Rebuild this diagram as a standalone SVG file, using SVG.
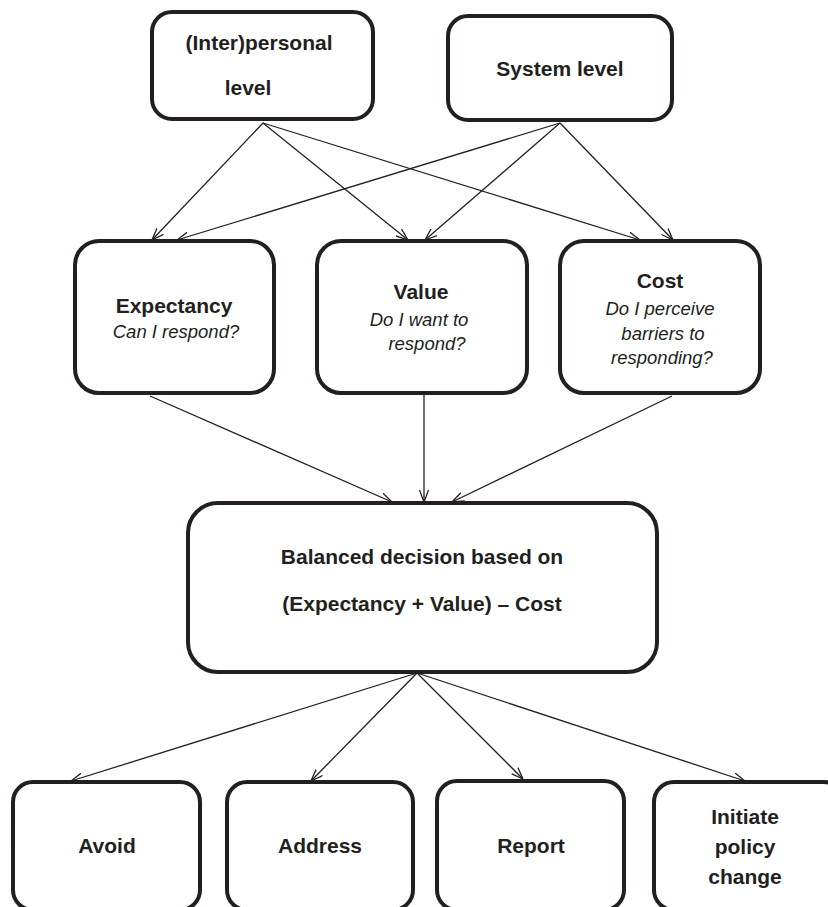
<svg xmlns="http://www.w3.org/2000/svg" width="828" height="907" viewBox="0 0 828 907">
  <defs>
    <marker id="arr" viewBox="0 0 12 10" refX="12" refY="5" markerWidth="12" markerHeight="10" markerUnits="userSpaceOnUse" orient="auto">
      <path d="M0,0.5 L12,5 L0,9.5" fill="none" stroke="#231f20" stroke-width="1.3"/>
    </marker>
  </defs>
  <style>
    .box { fill: #ffffff; stroke: #231f20; stroke-width: 4; }
    .con { stroke: #231f20; stroke-width: 1.3; fill: none; marker-end: url(#arr); }
    .t { font-family: "Liberation Sans", Arial, sans-serif; font-weight: bold; font-size: 21px; fill: #231f20; text-anchor: middle; }
    .q { font-family: "Liberation Sans", Arial, sans-serif; font-style: italic; font-size: 18.5px; fill: #231f20; text-anchor: middle; }
  </style>
  <rect width="828" height="907" fill="#ffffff"/>

  <g id="connectors">
    <line class="con" x1="263" y1="123" x2="152" y2="240"/>
    <line class="con" x1="263" y1="123" x2="408" y2="240"/>
    <line class="con" x1="263" y1="123" x2="640" y2="240"/>
    <line class="con" x1="560" y1="123" x2="177" y2="240"/>
    <line class="con" x1="560" y1="123" x2="425" y2="240"/>
    <line class="con" x1="560" y1="123" x2="673" y2="240"/>
    <line class="con" x1="150" y1="396" x2="392" y2="502"/>
    <line class="con" x1="424" y1="394" x2="424" y2="502"/>
    <line class="con" x1="672" y1="396" x2="452" y2="502"/>
    <line class="con" x1="417" y1="673" x2="71" y2="781"/>
    <line class="con" x1="417" y1="673" x2="311" y2="781"/>
    <line class="con" x1="417" y1="673" x2="523" y2="779"/>
    <line class="con" x1="417" y1="673" x2="745" y2="781"/>
  </g>

  <g id="interpersonal">
    <rect class="box" x="152" y="12" width="221" height="107" rx="20"/>
    <text class="t" x="259" y="50">(Inter)personal</text>
    <text class="t" x="248" y="95">level</text>
  </g>
  <g id="system">
    <rect class="box" x="448" y="16" width="224" height="104" rx="20"/>
    <text class="t" x="560" y="76">System level</text>
  </g>

  <g id="expectancy">
    <rect class="box" x="75" y="241" width="199" height="152" rx="24"/>
    <text class="t" x="174" y="313">Expectancy</text>
    <text class="q" x="176" y="338">Can I respond?</text>
  </g>
  <g id="value">
    <rect class="box" x="317" y="241" width="210" height="152" rx="24"/>
    <text class="t" x="421" y="299">Value</text>
    <text class="q" x="419" y="326">Do I want to</text>
    <text class="q" x="427" y="350">respond?</text>
  </g>
  <g id="cost">
    <rect class="box" x="560" y="241" width="200" height="152" rx="24"/>
    <text class="t" x="660" y="288">Cost</text>
    <text class="q" x="660" y="315">Do I perceive</text>
    <text class="q" x="663" y="340">barriers to</text>
    <text class="q" x="662" y="364">responding?</text>
  </g>

  <g id="decision">
    <rect class="box" x="188" y="503" width="469" height="169" rx="30"/>
    <text class="t" x="422" y="564">Balanced decision based on</text>
    <text class="t" x="422" y="611">(Expectancy + Value) – Cost</text>
  </g>

  <g id="avoid">
    <rect class="box" x="13" y="782" width="187" height="128" rx="20"/>
    <text class="t" x="107" y="853">Avoid</text>
  </g>
  <g id="address">
    <rect class="box" x="227" y="782" width="186" height="128" rx="20"/>
    <text class="t" x="320" y="853">Address</text>
  </g>
  <g id="report">
    <rect class="box" x="437" y="781" width="187" height="129" rx="20"/>
    <text class="t" x="531" y="853">Report</text>
  </g>
  <g id="policy">
    <rect class="box" x="654" y="782" width="190" height="128" rx="20"/>
    <text class="t" x="745" y="824">Initiate</text>
    <text class="t" x="745" y="854">policy</text>
    <text class="t" x="745" y="884">change</text>
  </g>
</svg>
